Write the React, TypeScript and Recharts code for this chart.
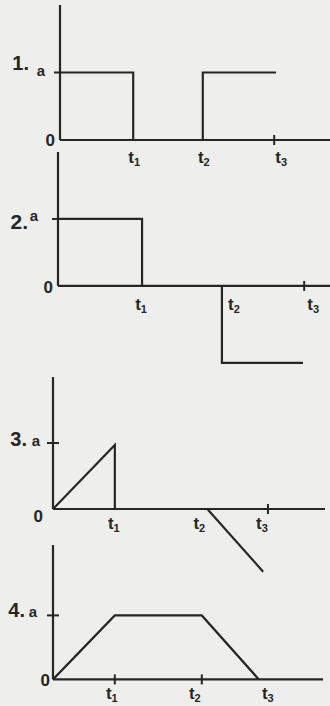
import React from 'react';
import { LineChart, Line, XAxis, YAxis, ReferenceLine, ReferenceDot } from 'recharts';

// ---------- data ----------
const GRAPH_NUMBERS = ['1.', '2.', '3.', '4.'];
const AMPLITUDE_LABEL = 'a';
const ZERO_LABEL = '0';
const TIME_SUBSCRIPTS = ['1', '2', '3'];

// graph 1 : pulses
const g1Times = [1.22, 2.38, 3.57];
const g1SegA = [{ t: 0, v: 1 }, { t: 1.22, v: 1 }, { t: 1.22, v: 0 }];
const g1SegB = [{ t: 2.38, v: 0 }, { t: 2.38, v: 1 }, { t: 3.6, v: 1 }];
const g1TickTimes = [3.57];

// graph 2 : positive then negative step
const g2Times = [1.4, 2.73, 4.1];
const g2SegA = [{ t: 0, v: 1 }, { t: 1.4, v: 1 }, { t: 1.4, v: 0 }];
const g2SegB = [{ t: 2.73, v: 0 }, { t: 2.73, v: -1.15 }, { t: 4.08, v: -1.15 }];
const g2TickTimes = [4.1];

// graph 3 : ramp up, then ramp down
const g3Times = [1.03, 2.57, 3.58];
const g3SegA = [{ t: 0, v: 0 }, { t: 1.03, v: 0.97 }, { t: 1.03, v: 0 }];
const g3SegB = [{ t: 2.57, v: 0 }, { t: 3.5, v: -0.95 }];
const g3TickTimes = [3.58];

// graph 4 : trapezoid
const g4Times = [1.03, 2.48, 3.43];
const g4SegA = [{ t: 0, v: 0 }, { t: 1.03, v: 1 }, { t: 2.48, v: 1 }, { t: 3.43, v: 0 }];
const g4TickTimes = [1.03, 2.48];

// ---------- layout / style ----------
const INK = '#262626';
const PAPER = '#eeeeec';
const FONT = '"Liberation Sans", Arial, sans-serif';

const GRAPHS = [
  {
    num: GRAPH_NUMBERS[0], segs: [g1SegA, g1SegB], times: g1Times, ticks: g1TickTimes, aTick: 'left',
    top: 0, height: 175, margin: { top: 5, right: 0, bottom: 8, left: 60 },
    xMax: 4.5, yDomain: [-0.4, 2.0], yTop: 2.0,
    numSize: 20, numDy: -3, aDy: 3, aGap: 15, numGap: 16,
    zeroDx: -5, zeroDy: 6,
    tDx: [1, 1, 7], tDy: 23,
  },
  {
    num: GRAPH_NUMBERS[1], segs: [g2SegA, g2SegB], times: g2Times, ticks: g2TickTimes, aTick: 'left',
    top: 145, height: 235, margin: { top: 7, right: 0, bottom: 7, left: 58 },
    xMax: 4.53, yDomain: [-1.3, 2.0], yTop: 2.0,
    numSize: 21, numDy: 10, aDy: 2, aGap: 20, numGap: 10,
    zeroDx: -5, zeroDy: 7,
    tDx: [-1, 12, 9], tDy: 24,
  },
  {
    num: GRAPH_NUMBERS[2], segs: [g3SegA, g3SegB], times: g3Times, ticks: g3TickTimes, aTick: 'both',
    top: 370, height: 215, margin: { top: 7, right: 5, bottom: 3.4, left: 53 },
    xMax: 4.53, yDomain: [-1.1, 2.0], yTop: 2.0,
    numSize: 20, numDy: 3, aDy: 3, aGap: 13, numGap: 13,
    zeroDx: -10, zeroDy: 13,
    tDx: [-1, -8, -6], tDy: 20,
  },
  {
    num: GRAPH_NUMBERS[3], segs: [g4SegA], times: g4Times, ticks: g4TickTimes, aTick: 'both',
    top: 538, height: 168, margin: { top: 7, right: 7, bottom: 4.2, left: 53 },
    xMax: 4.5, yDomain: [-0.35, 2.1], yTop: 2.1,
    numSize: 20, numDy: 2, aDy: 2, aGap: 16, numGap: 12,
    zeroDx: -3, zeroDy: 7,
    tDx: [-3, -7, 9], tDy: 20,
  },
];

function Graph({ g }: { g: any }) {
  const tickHalfY = 5 / ((g.height - g.margin.top - g.margin.bottom) / (g.yDomain[1] - g.yDomain[0]));
  const tickHalfX = 6 / ((330 - g.margin.left - g.margin.right) / g.xMax);
  const aTickRight = g.aTick === 'both' ? tickHalfX : 0;
  return (
    <div style={{ position: 'absolute', left: 0, top: g.top }}>
      <LineChart width={330} height={g.height} margin={g.margin}>
        <XAxis type="number" dataKey="t" domain={[0, g.xMax]} hide allowDataOverflow />
        <YAxis type="number" dataKey="v" domain={g.yDomain} hide allowDataOverflow />
        {/* axes */}
        <ReferenceLine segment={[{ x: 0, y: 0 }, { x: g.xMax, y: 0 }]} stroke={INK} strokeWidth={2.2} ifOverflow="visible" />
        <ReferenceLine segment={[{ x: 0, y: 0 }, { x: 0, y: g.yTop }]} stroke={INK} strokeWidth={2.2} ifOverflow="visible" />
        {g.ticks.map((t: number, i: number) => (
          <ReferenceLine key={'tk' + i} segment={[{ x: t, y: -tickHalfY }, { x: t, y: tickHalfY }]} stroke={INK} strokeWidth={2} ifOverflow="visible" />
        ))}
        <ReferenceLine segment={[{ x: -tickHalfX, y: 1 }, { x: aTickRight, y: 1 }]} stroke={INK} strokeWidth={2} ifOverflow="visible" />
        {g.segs.map((s: any[], i: number) => (
          <Line key={'s' + i} data={s} dataKey="v" type="linear" stroke={INK} strokeWidth={2.2} dot={false} isAnimationActive={false} />
        ))}
        {/* labels */}
        <ReferenceDot
          x={0} y={1} r={0} ifOverflow="visible"
          shape={(p: any) => (
            <g>
              <text x={p.cx - g.aGap - g.numGap} y={p.cy + g.numDy} textAnchor="end" fill={INK} fontFamily={FONT} fontWeight="bold" fontSize={g.numSize}>
                {g.num}
              </text>
              <text x={p.cx - g.aGap} y={p.cy + g.aDy} textAnchor="end" fill={INK} fontFamily={FONT} fontWeight="bold" fontSize={15}>
                {AMPLITUDE_LABEL}
              </text>
            </g>
          )}
        />
        <ReferenceDot
          x={0} y={0} r={0} ifOverflow="visible"
          shape={(p: any) => (
            <text x={p.cx + g.zeroDx} y={p.cy + g.zeroDy} textAnchor="end" fill={INK} fontFamily={FONT} fontSize={17} fontWeight="bold">
              {ZERO_LABEL}
            </text>
          )}
        />
        {g.times.map((t: number, i: number) => (
          <ReferenceDot
            key={'tl' + i}
            x={t} y={0} r={0} ifOverflow="visible"
            shape={(p: any) => (
              <text x={p.cx + g.tDx[i]} y={p.cy + g.tDy} textAnchor="middle" fill={INK} fontFamily={FONT} fontSize={17} fontWeight="bold">
                <tspan>t</tspan>
                <tspan fontSize={11} dy={3}>{TIME_SUBSCRIPTS[i]}</tspan>
              </text>
            )}
          />
        ))}
      </LineChart>
    </div>
  );
}

export default function App() {
  return (
    <div style={{ position: 'fixed', left: 0, top: 0, width: 330, height: 706, background: PAPER, overflow: 'hidden' }}>
      {GRAPHS.map((g, i) => (
        <Graph key={i} g={g} />
      ))}
    </div>
  );
}
